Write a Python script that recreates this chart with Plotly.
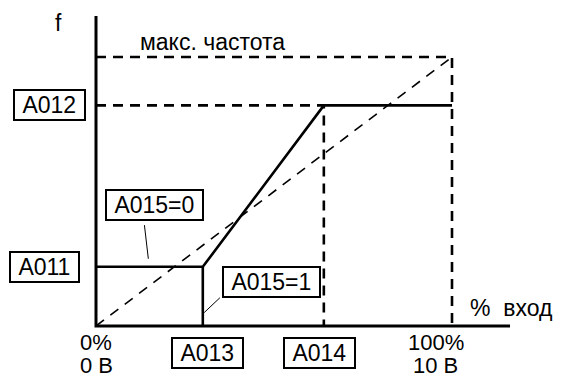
import plotly.graph_objects as go

# data (input in % of full scale, frequency in % of max)
x_end = 116.3
y_end = 115.2
f_max = 100.0
A011 = 22.0
A012 = 82.0
A013 = 30.0
A014 = 64.0
x_full = 100.0

FONT = "Liberation Sans, Arial, sans-serif"
K = "black"

fig = go.Figure()

def line(xs, ys, width, dash=None):
    fig.add_trace(go.Scatter(x=xs, y=ys, mode="lines", hoverinfo="skip",
                             line=dict(color=K, width=width, dash=dash)))

# diagonal dashed reference
line([0, x_full], [0, f_max], 1.6, "10px,8px")
# max frequency dashed box
line([0, x_full, x_full], [f_max, f_max, 0], 2.6, "10px,7px")
# A012 dashed and A014 vertical dashed
line([0, A014, A014], [A012, A012, 0], 2.6, "10px,7px")
# A015=0 curve: solid
line([0, A013, A014, x_full], [A011, A011, A012, A012], 2.6)
# A015=1 vertical drop
line([A013, A013], [0, A011], 2.6)
# leader lines
line([13.6, 14.7], [37.5, 25], 1)
line([34.8, 30.4], [10.5, 5], 1)
# axes
line([0, 0, x_end], [y_end, 0, 0], 3)

def box(text, x, y, xanchor="center"):
    fig.add_annotation(text="\u00a0" + text + "\u00a0", x=x, y=y, xref="x", yref="y",
                       showarrow=False, xanchor=xanchor, yanchor="middle",
                       font=dict(family=FONT, size=23, color=K),
                       bordercolor=K, borderwidth=2, borderpad=1, bgcolor="white")

def label(text, x, y, xanchor="center", yanchor="middle", size=23):
    fig.add_annotation(text=text, x=x, y=y, xref="x", yref="y", showarrow=False,
                       xanchor=xanchor, yanchor=yanchor,
                       font=dict(family=FONT, size=size, color=K))

box("A012", -2.8, A012, xanchor="right")
box("A011", -4.5, A011, xanchor="right")
box("A015=0", 16.3, 45)
box("A015=1", 49.2, 16.5)
box("A013", 31.2, -10.2)
box("A014", 62.9, -10.2)

label("f", -10.5, 112.8)
label("макс. частота", 11.8, 105.5, xanchor="left")
label("%  вход", 104.5, 6.7, xanchor="left")
label("0%", 0, -6.0, size=22)
label("0 В", 0, -14.5, size=22)
label("100%", 95.5, -6.0, size=22)
label("10 В", 95.5, -14.5, size=22)

# page has an 8px body margin; map data so that 0 -> screen x 96, 100 -> 452
fig.update_layout(
    width=565, height=380,
    margin=dict(l=0, r=0, t=0, b=0),
    paper_bgcolor="white", plot_bgcolor="white",
    showlegend=False,
    xaxis=dict(range=[-88 / 3.56, (565 - 88) / 3.56], visible=False),
    yaxis=dict(range=[-(380 - 318) / 2.69, 318 / 2.69], visible=False),
)
fig.write_html("out.html")
